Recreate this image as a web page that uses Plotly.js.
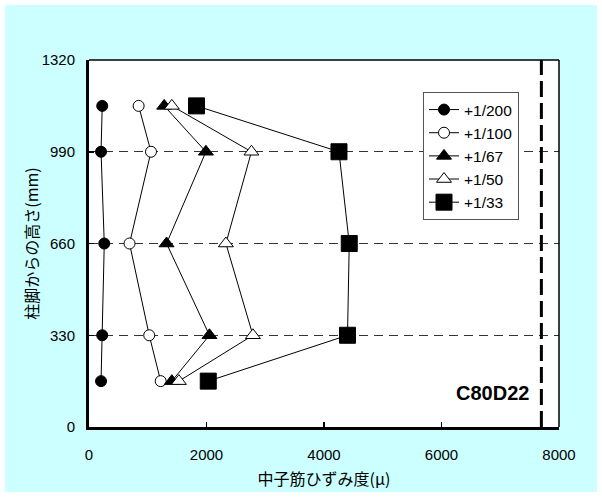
<!DOCTYPE html>
<html>
<head>
<meta charset="utf-8">
<script src="https://cdn.plot.ly/plotly-3.0.1.min.js"></script>
<style>html,body{margin:0;padding:0;background:#fff;}#chart{width:602px;height:497px;}</style>
</head>
<body>
<div id="chart"></div>
<script>
// Heights above column base (mm)
const heights = [1155, 990, 660, 330, 165];
// Strain values (μ) for each drift level
const s200 = [225, 205, 260, 225, 205];
const s100 = [845, 1055, 690, 1025, 1220];
const s67  = [1280, 1990, 1320, 2050, 1410];
const s50  = [1410, 2765, 2330, 2790, 1530];
const s33  = [1830, 4255, 4430, 4400, 2030];
const seriesNames = ['+1/200', '+1/100', '+1/67', '+1/50', '+1/33'];
const yieldStrain = 7700;
const xTicks = [0, 2000, 4000, 6000, 8000];
const yTicks = [0, 330, 660, 990, 1320];
const specimen = 'C80D22';

const seriesX = [s200, s100, s67, s50, s33];
const styles = [
  {symbol: 'circle', size: 11, color: '#000'},
  {symbol: 'circle', size: 11, color: '#fff'},
  {symbol: 'triangle-up', size: 13, color: '#000'},
  {symbol: 'triangle-up', size: 13, color: '#fff'},
  {symbol: 'square', size: 16, color: '#000'}
];

const traces = seriesX.map((xs, i) => ({
  x: xs, y: heights, type: 'scatter', mode: 'lines+markers',
  name: seriesNames[i],
  line: {color: '#000', width: 1},
  marker: {symbol: styles[i].symbol, size: styles[i].size, color: styles[i].color,
           line: {color: '#000', width: 1}},
  cliponaxis: false
}));

const L = 89, R = 559, T = 60, B = 427, W = 602, H = 497;
const pw = R - L, ph = B - T;
const px = v => (v - L) / pw;
const py = v => (B - v) / ph;

const layout = {
  width: W, height: H,
  margin: {l: L, r: W - R, t: T, b: H - B, pad: 0},
  paper_bgcolor: '#ffffff',
  plot_bgcolor: '#ffffff',
  font: {family: 'Liberation Sans, Arial, sans-serif', size: 15, color: '#000'},
  showlegend: true,
  legend: {
    x: px(423), y: py(92), xanchor: 'left', yanchor: 'top',
    bgcolor: '#fff', bordercolor: '#555', borderwidth: 1,
    font: {size: 15.5, family: 'Liberation Sans, Arial, sans-serif'},
    tracegroupgap: 0, entrywidth: 68
  },
  xaxis: {
    range: [0, 8000], tickvals: xTicks, ticktext: xTicks.map(String),
    showline: true, linecolor: '#000', linewidth: 3, mirror: false,
    ticks: 'inside', ticklen: 5, tickwidth: 1.5, tickcolor: '#000',
    showgrid: false, zeroline: false, ticklabelstandoff: 12,
    title: {text: '中子筋ひずみ度(μ)', font: {family: 'Noto Sans CJK JP, sans-serif', size: 16}, standoff: 12}
  },
  yaxis: {
    range: [0, 1320], tickvals: yTicks, ticktext: yTicks.map(String),
    showline: true, linecolor: '#000', linewidth: 3, mirror: false,
    ticks: 'inside', ticklen: 5, tickwidth: 1.5, tickcolor: '#000',
    showgrid: true, gridcolor: '#333', gridwidth: 1, griddash: '9px,6px',
    zeroline: false, ticklabelstandoff: 8,
    title: {text: '柱脚からの高さ(mm)', font: {family: 'Noto Sans CJK JP, sans-serif', size: 16}, standoff: 0}
  },
  shapes: [
    {type: 'rect', xref: 'paper', yref: 'paper', layer: 'below',
     x0: px(5), x1: px(597), y0: py(492), y1: py(5),
     fillcolor: '#ccffff', line: {width: 0}},
    {type: 'rect', xref: 'paper', yref: 'paper', layer: 'below',
     x0: 0, x1: 1, y0: 0, y1: 1, fillcolor: '#ffffff', line: {width: 0}},
    {type: 'line', xref: 'paper', yref: 'paper', x0: 0, x1: 1, y0: 1, y1: 1,
     line: {color: '#000', width: 1.5}},
    {type: 'line', xref: 'paper', yref: 'paper', x0: 1, x1: 1, y0: 0, y1: 1,
     line: {color: '#000', width: 1.5}},
    {type: 'line', xref: 'x', yref: 'paper', x0: yieldStrain, x1: yieldStrain, y0: 0, y1: 1,
     line: {color: '#000', width: 3, dash: '16px,6px'}}
  ],
  annotations: [
    {text: '<b>' + specimen + '</b>', xref: 'paper', yref: 'paper',
     x: px(531), y: py(393), xanchor: 'right', yanchor: 'middle', showarrow: false,
     font: {size: 20, family: 'Liberation Sans, Arial, sans-serif', color: '#000'}}
  ]
};

Plotly.newPlot('chart', traces, layout, {displayModeBar: false, staticPlot: true});
</script>
</body>
</html>
